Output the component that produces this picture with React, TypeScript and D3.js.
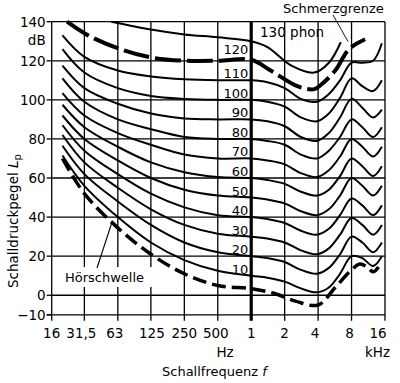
import React from 'react';
import * as d3 from 'd3';

// ---- data ----
const FREQS = [20, 31.5, 63, 125, 250, 500, 1000, 1400, 2000, 2800, 3900, 5000, 6300, 8000, 10000, 12500, 15000];
const PHON_LEVELS = [10, 20, 30, 40, 50, 60, 70, 80, 90, 100, 110];
const phon10 = [71.5, 56, 40, 27, 18, 12.5, 10, 9, 7, 3.5, 1.5, 4, 11, 20, 19, 15, 20];
const phon20 = [76.5, 62, 48, 36, 27, 22, 20, 19, 17, 13, 11, 14, 21, 30, 27, 22, 27];
const phon30 = [82, 68, 55, 44, 36, 31.5, 30, 29, 27, 23, 21, 24, 31, 39.5, 36, 31, 36];
const phon40 = [87, 74, 62, 52, 45, 41, 40, 39, 37, 33, 31, 34, 41, 49.5, 46, 41, 46];
const phon50 = [92, 80, 69, 60, 54, 51, 50, 49, 47, 43, 41, 44, 51, 60, 56, 51, 56];
const phon60 = [97.5, 86, 76, 68, 63, 60.5, 60, 59, 57, 53, 51, 54, 61, 70, 66, 61, 66];
const phon70 = [103.5, 92, 83, 77, 72, 70, 70, 69, 67, 62.5, 60.5, 64, 71, 80, 76, 71, 76];
const phon80 = [111, 99, 90, 85, 81, 80, 80, 79, 77, 72, 70, 74, 81, 90, 86, 81, 86];
const phon90 = [117.5, 106, 98, 93, 90.5, 90, 90, 89, 86.5, 81, 79, 83, 91, 100.5, 96, 91, 95];
const phon100 = [126, 114, 106, 102, 100.5, 100, 100, 99, 96.5, 91, 89, 93, 101, 111, 107, 104.5, 110];
const phon110 = [133, 122, 115, 112, 110.5, 110, 110, 109, 106, 100.5, 99, 103, 110, 119, 119, 120, 129];
const PHON_CURVES = [phon10, phon20, phon30, phon40, phon50, phon60, phon70, phon80, phon90, phon100, phon110];

const P130_FREQS = [55, 125, 250, 500, 1000, 1400, 2300, 3700, 5000, 6400];
const P130_DB = [140, 136, 133.5, 132, 130, 127, 117.5, 114, 119, 129.5];

const PAIN_FREQS = [22, 34, 66, 131, 265, 500, 1000, 1500, 2600, 3700, 4300, 5700, 7600, 10600];
const PAIN_DB = [140, 133, 126, 121.5, 120, 120, 120.5, 115, 107, 105.5, 108, 115, 126, 131];

const THRESH_FREQS = [20, 31.5, 63, 125, 250, 500, 1000, 1600, 2500, 4000, 5700, 8000, 9500, 11000, 12500, 14000];
const THRESH_DB = [70, 52, 34.5, 21, 11, 5, 3.4, 1, -3, -5, 4, 13, 16, 14.5, 12, 14.5];

const X_TICKS = [16, 31.5, 63, 125, 250, 500, 1000, 2000, 4000, 8000, 16000];
const X_TICK_LABELS = ['16', '31,5', '63', '125', '250', '500', '1', '2', '4', '8', '16'];
const Y_GRID = [140, 120, 100, 80, 60, 40, 20, 0];
const Y_TICKS = [140, 120, 100, 80, 60, 40, 20, 0, -10];
const Y_TICK_LABELS = ['140', '120', '100', '80', '60', '40', '20', '0', '\u221210'];

const FONT = "'DejaVu Sans', sans-serif";

export default function App() {
  const x = d3.scaleLog().base(2).domain([16, 16000]).range([51.7, 385]);
  const y = d3.scaleLinear().domain([-10, 140]).range([314.8, 21.7]);
  const line = d3
    .line<[number, number]>()
    .x((d) => x(d[0]))
    .y((d) => y(d[1]))
    .curve(d3.curveCatmullRom.alpha(0.5));

  const zip = (fs: number[], vs: number[]) => fs.map((f, i) => [f, vs[i]] as [number, number]);
  const xLabelDx = [0, -3, -3, 1, 0, -2, 0, 0, -3, -2, -7];

  const x0 = x(16);
  const x1 = x(16000);
  const yTop = y(140);
  const yBot = y(-10);

  return (
    <svg width={400} height={383} style={{ position: 'absolute', left: 0, top: 0, background: '#fff' }} fontFamily={FONT}>
      <rect x={0} y={0} width={400} height={383} fill="#fff" />
      {/* grid */}
      {X_TICKS.map((f, i) => (
        <line key={'vx' + i} x1={x(f)} x2={x(f)} y1={yTop} y2={yBot + 6} stroke="#000" strokeWidth={f === 1000 ? 3.2 : 1.3} />
      ))}
      {Y_GRID.map((v, i) => (
        <line key={'hy' + i} x1={x0} x2={x1} y1={y(v)} y2={y(v)} stroke="#000" strokeWidth={1.3} />
      ))}
      <line x1={x0 - 5} x2={x1} y1={yBot} y2={yBot} stroke="#000" strokeWidth={1.3} />
      {Y_TICKS.map((v, i) => (
        <line key={'ty' + i} x1={x0 - 5} x2={x0} y1={y(v)} y2={y(v)} stroke="#000" strokeWidth={1.3} />
      ))}

      {/* curves */}
      {PHON_CURVES.map((vals, i) => (
        <path key={'c' + i} d={line(zip(FREQS, vals)) || ''} fill="none" stroke="#000" strokeWidth={2} />
      ))}
      <path d={line(zip(P130_FREQS, P130_DB)) || ''} fill="none" stroke="#000" strokeWidth={2} />
      <path d={line(zip(PAIN_FREQS, PAIN_DB)) || ''} fill="none" stroke="#000" strokeWidth={4} strokeDasharray="26 6" />
      <path d={line(zip(THRESH_FREQS, THRESH_DB)) || ''} fill="none" stroke="#000" strokeWidth={3.5} strokeDasharray="14 6" />

      {/* phon labels */}
      {PHON_LEVELS.map((L, i) => (
        <text key={'pl' + i} x={x(1000) - 3} y={y(L) - 2} textAnchor="end" fontSize={13}>
          {L}
        </text>
      ))}
      <text x={x(1000) - 3} y={y(120) - 7} textAnchor="end" fontSize={13}>120</text>
      <text x={260} y={37} fontSize={13.5}>130 phon</text>

      {/* Schmerzgrenze */}
      <text x={283} y={13} fontSize={13}>Schmerzgrenze</text>
      <line x1={333} y1={15} x2={348} y2={41.5} stroke="#000" strokeWidth={0.9} />

      {/* Hörschwelle */}
      <rect x={60} y={267} width={93} height={20} fill="#fff" />
      <text x={65} y={282} fontSize={13}>Hörschwelle</text>
      <line x1={97} y1={268} x2={111.7} y2={223} stroke="#000" strokeWidth={1.1} />

      {/* axis labels */}
      {Y_TICKS.map((v, i) => (
        <text key={'yl' + i} x={x0 - 6} y={y(v) + 5} textAnchor="end" fontSize={13.5}>
          {Y_TICK_LABELS[i]}
        </text>
      ))}
      <text x={x0 - 6} y={45} textAnchor="end" fontSize={13.5}>dB</text>
      {X_TICKS.map((f, i) => (
        <text key={'xl' + i} x={x(f) + xLabelDx[i]} y={338} textAnchor="middle" fontSize={13.5}>
          {X_TICK_LABELS[i]}
        </text>
      ))}
      <text x={225} y={357} textAnchor="middle" fontSize={13.5}>Hz</text>
      <text x={377.5} y={357} textAnchor="middle" fontSize={13.5}>kHz</text>
      <text x={162} y={376} fontSize={13}>
        Schallfrequenz <tspan fontStyle="italic">f</tspan>
      </text>
      <text transform="translate(17.5,288) rotate(-90)" fontSize={13.5}>
        Schalldruckpegel <tspan fontStyle="italic">L</tspan>
        <tspan fontSize={10} dy={3}>p</tspan>
      </text>
    </svg>
  );
}
